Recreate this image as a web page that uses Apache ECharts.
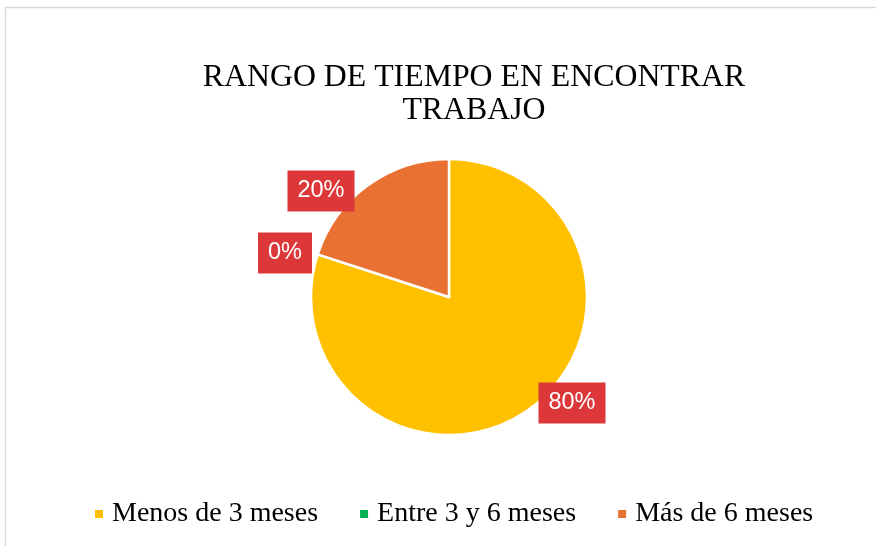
<!DOCTYPE html>
<html>
<head>
<meta charset="utf-8">
<script src="https://cdn.jsdelivr.net/npm/echarts@6/dist/echarts.min.js"></script>
<style>
  html, body { margin: 0; padding: 0; background: #fff; }
  #main { width: 876px; height: 546px; }
</style>
</head>
<body>
<div id="main"></div>
<script>
// data
var categories = ['Menos de 3 meses', 'Entre 3 y 6 meses', 'Más de 6 meses'];
var values = [80, 0, 20];
var colors = ['#FFC000', '#00B050', '#E97132'];

// where excel dropped the data labels (label centres)
var labelSpots = [[572, 403], [285, 253], [321, 191]];

var chart = echarts.init(document.getElementById('main'));

chart.setOption({
    backgroundColor: '#fff',
    animation: false,
    title: {
        text: 'RANGO DE TIEMPO EN ENCONTRAR\nTRABAJO',
        left: 469,
        top: 56,
        textAlign: 'center',
        textStyle: {
            fontFamily: '"Liberation Serif", "Times New Roman", serif',
            fontSize: 31.8,
            fontWeight: 'normal',
            color: '#000',
            lineHeight: 33
        }
    },
    legend: {
        bottom: 13,
        left: 88,
        itemWidth: 10,
        itemHeight: 10,
        itemGap: 40,
        icon: 'rect',
        data: categories,
        textStyle: {
            fontFamily: '"Liberation Serif", "Times New Roman", serif',
            fontSize: 28,
            color: '#000',
            padding: [0, 0, 0, 3]
        }
    },
    graphic: [{
        type: 'rect',
        shape: { x: 5.5, y: 7.5, width: 1000, height: 1000 },
        style: { fill: 'none', stroke: '#d9d9d9', lineWidth: 1.5 },
        silent: true
    }],
    series: [{
        type: 'pie',
        center: [449, 297],
        radius: 138,
        startAngle: 90,
        clockwise: true,
        avoidLabelOverlap: false,
        itemStyle: { borderColor: '#fff', borderWidth: 2.5 },
        label: {
            show: true,
            formatter: '{c}%',
            color: '#fff',
            backgroundColor: '#DC383A',
            fontFamily: '"Liberation Sans", Arial, sans-serif',
            fontSize: 23.5,
            padding: [9, 10, 8, 10]
        },
        labelLine: { show: false },
        labelLayout: function (params) {
            var p = labelSpots[params.dataIndex];
            return { x: p[0], y: p[1], align: 'center', verticalAlign: 'middle' };
        },
        data: categories.map(function (name, i) {
            return { name: name, value: values[i], itemStyle: { color: colors[i] } };
        })
    }]
});
</script>
</body>
</html>
